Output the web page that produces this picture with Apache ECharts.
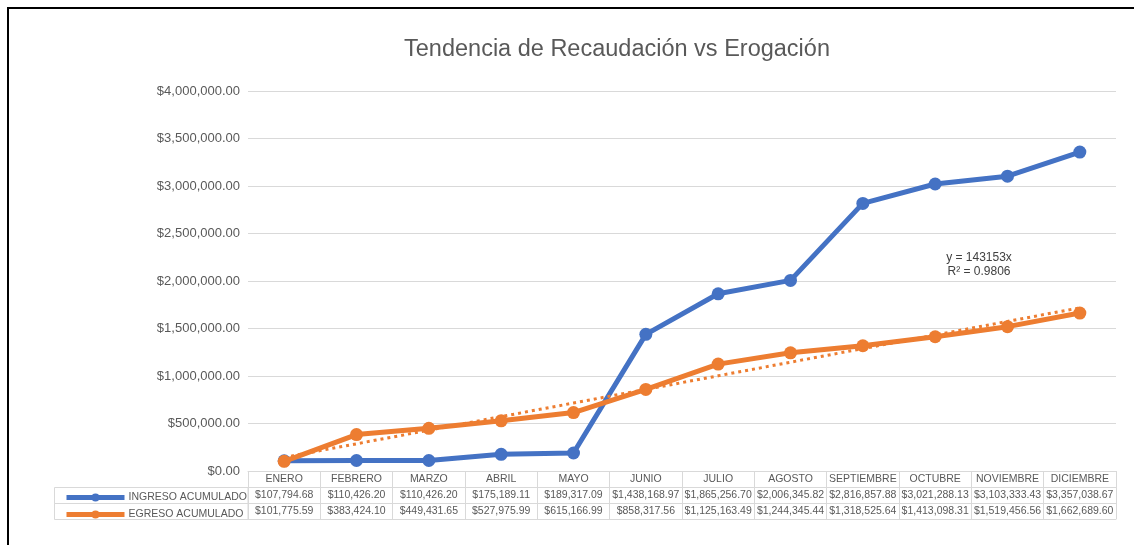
<!DOCTYPE html>
<html>
<head>
<meta charset="utf-8">
<title>Tendencia de Recaudación vs Erogación</title>
<script src="https://cdn.jsdelivr.net/npm/echarts@6/dist/echarts.min.js"></script>
<style>
html,body{margin:0;padding:0;background:#fff;}
#chart{width:1134px;height:545px;}
</style>
</head>
<body>
<div id="chart"></div>
<script>
var meses=['ENERO','FEBRERO','MARZO','ABRIL','MAYO','JUNIO','JULIO','AGOSTO','SEPTIEMBRE','OCTUBRE','NOVIEMBRE','DICIEMBRE'];
var ingreso=[107794.68,110426.20,110426.20,175189.11,189317.09,1438168.97,1865256.70,2006345.82,2816857.88,3021288.13,3103333.43,3357038.67];
var egreso=[101775.59,383424.10,449431.65,527975.99,615166.99,858317.56,1125163.49,1244345.44,1318525.64,1413098.31,1519456.56,1662689.60];
var r2Texto='R² = 0.9806';

var AZUL='#4472C4';
var NARANJA='#ED7D31';
var GRIS='#595959';
var LINEA='#d9d9d9';
var FUENTE='"Liberation Sans", Arial, sans-serif';

function moneda(v){
	return '$'+Number(v).toLocaleString('en-US',{minimumFractionDigits:2,maximumFractionDigits:2});
}

// linea de tendencia lineal con interseccion en cero (como Excel)
function tendencia(arr){
	var sxy=0,sxx=0;
	for(var i=0;i<arr.length;i++){
		sxy+=(i+1)*arr[i];
		sxx+=(i+1)*(i+1);
	}
	var m=sxy/sxx;
	var pts=[];
	for(var j=0;j<arr.length;j++){
		pts.push(m*(j+1));
	}
	return {m:m,data:pts};
}
var trend=tendencia(egreso);

// ejes del pie que forman la tabla de datos
function ejeTabla(offset,fmt,conTicks){
	return {
		type:'category',
		data:meses,
		position:'bottom',
		offset:offset,
		gridIndex:0,
		axisLine:{show:true,lineStyle:{color:LINEA,width:1}},
		axisTick:{show:conTicks,interval:0,length:16,lineStyle:{color:LINEA}},
		axisLabel:{
			show:!!fmt,
			interval:0,
			margin:3,
			color:GRIS,
			fontFamily:FUENTE,
			fontSize:10.5,
			lineHeight:11,
			formatter:fmt||function(){return '';}
		},
		splitLine:{show:false}
	};
}

var myChart=echarts.init(document.getElementById('chart'));
var option={
	animation:false,
	backgroundColor:'#fff',
	title:{
		text:'Tendencia de Recaudación vs Erogación',
		left:612,
		top:33,
		textAlign:'center',
		textStyle:{color:GRIS,fontSize:23.5,fontWeight:'normal',fontFamily:FUENTE}
	},
	legend:{
		data:['INGRESO ACUMULADO','EGRESO ACUMULADO'],
		orient:'vertical',
		left:59,
		top:487,
		itemWidth:58,
		itemHeight:10,
		itemGap:6,
		lineStyle:{width:5},
		textStyle:{color:GRIS,fontSize:10.5,fontFamily:FUENTE,lineHeight:10,padding:[0,0,0,-1]}
	},
	grid:{left:248,right:18,top:91,height:380},
	xAxis:[
		ejeTabla(0,function(v){return v;},true),
		ejeTabla(16,function(v,i){return moneda(ingreso[i]);},true),
		ejeTabla(32,function(v,i){return moneda(egreso[i]);},true),
		ejeTabla(48,null,false)
	],
	yAxis:{
		type:'value',
		min:0,
		max:4000000,
		interval:500000,
		axisLine:{show:false},
		axisTick:{show:false},
		axisLabel:{color:GRIS,fontSize:13,fontFamily:FUENTE,margin:8,formatter:moneda},
		splitLine:{lineStyle:{color:LINEA,width:1}}
	},
	series:[
		{
			name:'INGRESO ACUMULADO',
			type:'line',
			xAxisIndex:0,
			data:ingreso,
			symbol:'circle',
			symbolSize:13,
			color:AZUL,
			lineStyle:{width:5,color:AZUL},
			itemStyle:{color:AZUL},
			z:2
		},
		{
			name:'EGRESO ACUMULADO',
			type:'line',
			xAxisIndex:0,
			data:egreso,
			symbol:'circle',
			symbolSize:13,
			color:NARANJA,
			lineStyle:{width:5,color:NARANJA},
			itemStyle:{color:NARANJA},
			z:3
		},
		{
			name:'Lineal (EGRESO ACUMULADO)',
			type:'line',
			xAxisIndex:0,
			data:trend.data,
			symbol:'none',
			lineStyle:{width:3,color:NARANJA,type:[3,4]},
			silent:true,
			z:4
		}
	],
	graphic:[
		{type:'rect',shape:{x:8,y:8,width:1200,height:600},style:{fill:'none',stroke:'#000',lineWidth:2},silent:true},
		{type:'rect',shape:{x:54.5,y:487.5,width:193.5,height:16},style:{fill:'none',stroke:LINEA,lineWidth:1},silent:true},
		{type:'rect',shape:{x:54.5,y:503.5,width:193.5,height:16},style:{fill:'none',stroke:LINEA,lineWidth:1},silent:true},
		{type:'text',x:979,y:252,style:{text:'y = '+Math.round(trend.m)+'x',fill:'#404040',font:'12px '+FUENTE,textAlign:'center'},silent:true},
		{type:'text',x:979,y:266,style:{text:r2Texto,fill:'#404040',font:'12px '+FUENTE,textAlign:'center'},silent:true}
	]
};
myChart.setOption(option);
</script>
</body>
</html>
